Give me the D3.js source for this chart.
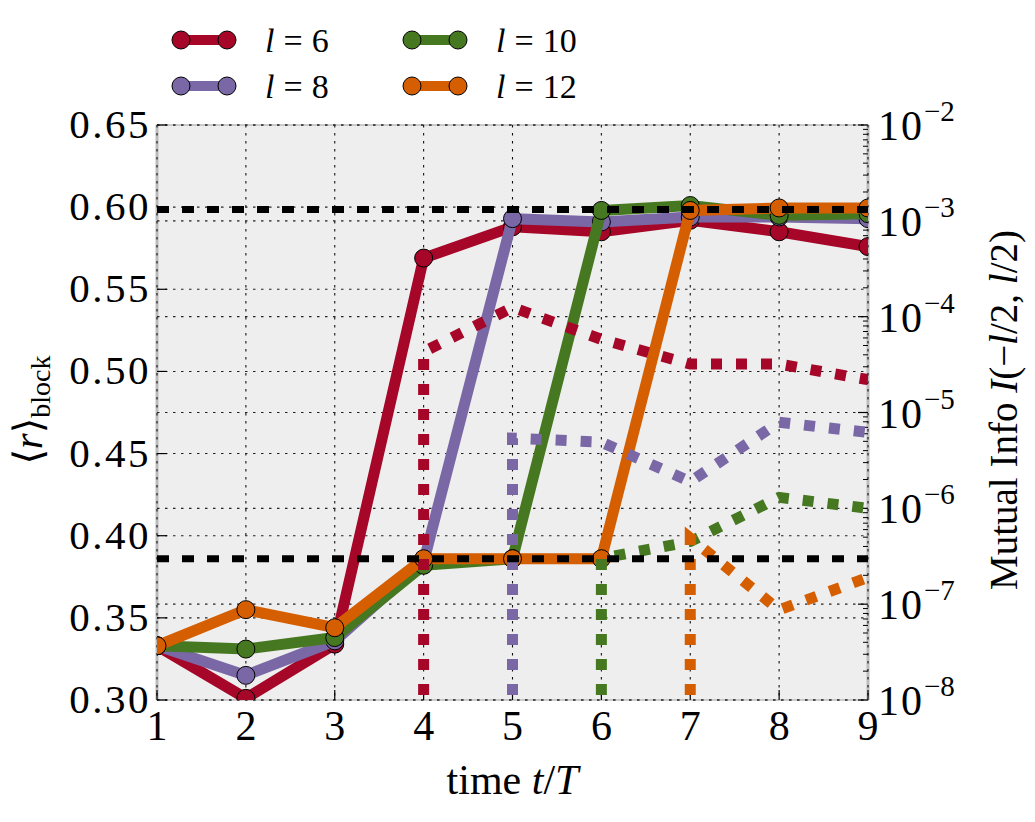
<!DOCTYPE html>
<html>
<head>
<meta charset="utf-8">
<script src="https://cdn.jsdelivr.net/npm/d3@7"></script>
<style>
  body { margin: 0; background: #fff; }
  text { font-family: "Liberation Serif", "DejaVu Serif", serif; fill: #000; }
</style>
</head>
<body>
<div id="chart"></div>
<script>
// time steps
const times = [1, 2, 3, 4, 5, 6, 7, 8, 9];

// <r>_block per block size l
const rL6 = [0.333, 0.301, 0.334, 0.569, 0.588, 0.585, 0.592, 0.585, 0.576];
const rL8 = [0.333, 0.315, 0.336, 0.384, 0.593, 0.591, 0.594, 0.594, 0.593];
const rL10 = [0.333, 0.331, 0.338, 0.382, 0.386, 0.598, 0.601, 0.595, 0.596];
const rL12 = [0.333, 0.355, 0.344, 0.386, 0.386, 0.386, 0.598, 0.5995, 0.5995];

// mutual information (0 = not yet nonzero, clipped on log axis)
const miL6 = [0, 0, 0, 4.3e-5, 1.25e-4, 5.8e-5, 3.2e-5, 3.2e-5, 2.2e-5];
const miL8 = [0, 0, 0, 0, 5.4e-6, 4.9e-6, 1.9e-6, 7.9e-6, 6.2e-6];
const miL10 = [0, 0, 0, 0, 0, 3.0e-7, 4.5e-7, 1.3e-6, 1.0e-6];
const miL12 = [0, 0, 0, 0, 0, 0, 4.9e-7, 8.7e-8, 1.9e-7];

// reference levels (Poisson and GUE)
const refLevels = [0.386, 0.5985];

const seriesNames = ["6", "8", "10", "12"];
const seriesColors = ["#a60628", "#7a68a6", "#467821", "#d55e00"];
const rSeries = [rL6, rL8, rL10, rL12];
const miSeries = [miL6, miL8, miL10, miL12];

const xTicks = [1, 2, 3, 4, 5, 6, 7, 8, 9];
const yTicks = [0.30, 0.35, 0.40, 0.45, 0.50, 0.55, 0.60, 0.65];
const logTicks = [-8, -7, -6, -5, -4, -3, -2];

const width = 1035, height = 822;
const margin = { left: 157, right: 167, top: 125, bottom: 122 };
const plotW = width - margin.left - margin.right;
const plotH = height - margin.top - margin.bottom;

let svg = d3.select("#chart")
  .append("svg")
  .attr("width", width)
  .attr("height", height);

let x = d3.scaleLinear().domain([1, 9]).range([0, plotW]);
let y = d3.scaleLinear().domain([0.30, 0.65]).range([plotH, 0]);
let yLog = d3.scaleLog().domain([1e-8, 1e-2]).range([plotH, 0]);

svg.append("defs").append("clipPath")
  .attr("id", "plot-clip")
  .append("rect")
  .attr("width", plotW)
  .attr("height", plotH);

let g = svg.append("g")
  .attr("transform", `translate(${margin.left},${margin.top})`);

// background
g.append("rect")
  .attr("width", plotW)
  .attr("height", plotH)
  .style("fill", "#eeeeee");

// spines
g.append("rect")
  .attr("width", plotW)
  .attr("height", plotH)
  .style("fill", "none")
  .style("stroke", "#bcbcbc")
  .style("stroke-width", 1.5);
[0, plotW].forEach(function (px) {
  g.append("line")
    .attr("x1", px).attr("x2", px)
    .attr("y1", 0).attr("y2", plotH)
    .style("stroke", "#bcbcbc")
    .style("stroke-width", 3);
});

// grid
let grid = g.append("g").attr("class", "grid");
grid.selectAll(".vgrid")
  .data(xTicks)
  .enter().append("line")
  .attr("x1", d => x(d)).attr("x2", d => x(d))
  .attr("y1", 0).attr("y2", plotH)
  .style("stroke", "#111")
  .style("stroke-width", 1.1)
  .style("stroke-dasharray", "2.5,5.5");
grid.selectAll(".hgrid")
  .data(yTicks)
  .enter().append("line")
  .attr("x1", 0).attr("x2", plotW)
  .attr("y1", d => y(d)).attr("y2", d => y(d))
  .style("stroke", "#222")
  .style("stroke-width", 1.1)
  .style("stroke-dasharray", "2.5,5.5");
grid.selectAll(".lgrid")
  .data(logTicks)
  .enter().append("line")
  .attr("x1", 0).attr("x2", plotW)
  .attr("y1", d => yLog(Math.pow(10, d))).attr("y2", d => yLog(Math.pow(10, d)))
  .style("stroke", "#222")
  .style("stroke-width", 1.1)
  .style("stroke-dasharray", "2.5,5.5");

// ticks (inward)
g.selectAll(".xtick")
  .data(xTicks)
  .enter().append("line")
  .attr("x1", d => x(d)).attr("x2", d => x(d))
  .attr("y1", plotH).attr("y2", plotH - 10)
  .style("stroke", "#000").style("stroke-width", 1.2);
g.selectAll(".ytick")
  .data(yTicks)
  .enter().append("line")
  .attr("x1", 0).attr("x2", 10)
  .attr("y1", d => y(d)).attr("y2", d => y(d))
  .style("stroke", "#000").style("stroke-width", 1.2);

let minorLog = [];
logTicks.slice(0, -1).forEach(function (e) {
  for (let m = 2; m <= 9; m++) minorLog.push(m * Math.pow(10, e));
});
g.selectAll(".lmajor")
  .data(logTicks)
  .enter().append("line")
  .attr("x1", plotW).attr("x2", plotW - 10)
  .attr("y1", d => yLog(Math.pow(10, d))).attr("y2", d => yLog(Math.pow(10, d)))
  .style("stroke", "#000").style("stroke-width", 1.2);
g.selectAll(".lminor")
  .data(minorLog)
  .enter().append("line")
  .attr("x1", plotW).attr("x2", plotW - 5)
  .attr("y1", d => yLog(d)).attr("y2", d => yLog(d))
  .style("stroke", "#000").style("stroke-width", 1);

// tick labels
g.selectAll(".xlabel")
  .data(xTicks)
  .enter().append("text")
  .attr("x", d => x(d))
  .attr("y", plotH + 40)
  .style("text-anchor", "middle")
  .style("font-size", "42px")
  .text(d => d);
g.selectAll(".ylabel")
  .data(yTicks)
  .enter().append("text")
  .attr("x", -6)
  .attr("y", d => y(d) + 13)
  .style("text-anchor", "end")
  .style("font-size", "41px")
  .style("letter-spacing", "2.5px")
  .text(d => d3.format(".2f")(d));
let logLabels = g.selectAll(".loglabel")
  .data(logTicks)
  .enter().append("text")
  .attr("x", plotW + 10)
  .attr("y", d => yLog(Math.pow(10, d)) + 15)
  .style("font-size", "42px");
logLabels.append("tspan").style("letter-spacing", "2px").text("10");
logLabels.append("tspan")
  .attr("dy", -19)
  .style("font-size", "29px")
  .text(d => "\u2212" + Math.abs(d));

// solid <r> lines
let line = d3.line()
  .x((d, i) => x(times[i]))
  .y(d => y(d));

let plot = g.append("g").attr("clip-path", "url(#plot-clip)");

rSeries.forEach(function (vals, k) {
  plot.append("path")
    .datum(vals)
    .attr("d", line)
    .style("fill", "none")
    .style("stroke", seriesColors[k])
    .style("stroke-width", 11)
    .style("stroke-linejoin", "miter");
  plot.selectAll(".m" + k)
    .data(vals)
    .enter().append("circle")
    .attr("cx", (d, i) => x(times[i]))
    .attr("cy", d => y(d))
    .attr("r", 9)
    .style("fill", seriesColors[k])
    .style("stroke", "#000")
    .style("stroke-width", 1);
});

// dotted mutual info lines (log axis, zeros clipped to the bottom)
let miLine = d3.line()
  .x(d => x(d.t))
  .y(d => d.v > 0 ? yLog(d.v) : plotH + 20);

miSeries.forEach(function (vals, k) {
  let pts = [];
  let first = vals.findIndex(v => v > 0);
  pts.push({ t: times[first], v: 0 });
  vals.forEach(function (v, i) {
    if (i >= first) pts.push({ t: times[i], v: v });
  });
  plot.append("path")
    .datum(pts)
    .attr("d", miLine)
    .style("fill", "none")
    .style("stroke", seriesColors[k])
    .style("stroke-width", 11)
    .style("stroke-dasharray", "11,14")
    .style("stroke-linejoin", "miter");
});

// reference dashed lines
plot.selectAll(".ref")
  .data(refLevels)
  .enter().append("line")
  .attr("x1", 0).attr("x2", plotW)
  .attr("y1", d => y(d)).attr("y2", d => y(d))
  .style("stroke", "#000")
  .style("stroke-width", 7)
  .style("stroke-dasharray", "12,13");

// axis titles
let xt = svg.append("text")
  .attr("x", margin.left + plotW / 2)
  .attr("y", 794)
  .style("text-anchor", "middle")
  .style("font-size", "42px");
xt.append("tspan").text("time ");
xt.append("tspan").style("font-style", "italic").text("t");
xt.append("tspan").text("/");
xt.append("tspan").style("font-style", "italic").text("T");

let yt = svg.append("text")
  .attr("transform", "translate(42,410) rotate(-90)")
  .style("text-anchor", "middle")
  .style("font-size", "40px");
yt.append("tspan").text("\u27e8");
yt.append("tspan").style("font-style", "italic").text("r");
yt.append("tspan").text("\u27e9");
yt.append("tspan").attr("dy", 8).style("font-size", "28px").text("block");

let rt = svg.append("text")
  .attr("transform", "translate(1017,410) rotate(-90)")
  .style("text-anchor", "middle")
  .style("font-size", "39px");
rt.append("tspan").text("Mutual Info ");
rt.append("tspan").style("font-style", "italic").text("I");
rt.append("tspan").text("(\u2212");
rt.append("tspan").style("font-style", "italic").text("l");
rt.append("tspan").text("/2, ");
rt.append("tspan").style("font-style", "italic").text("l");
rt.append("tspan").text("/2)");

// legend
let legend = svg.append("g").attr("class", "legend");
seriesNames.forEach(function (name, k) {
  let col = Math.floor(k / 2), row = k % 2;
  let lg = legend.append("g")
    .attr("transform", `translate(${181 + col * 231},${40 + row * 46})`);
  lg.append("line")
    .attr("x1", 0).attr("x2", 46)
    .style("stroke", seriesColors[k])
    .style("stroke-width", 10);
  lg.selectAll("circle")
    .data([0, 46])
    .enter().append("circle")
    .attr("cx", d => d)
    .attr("r", 9)
    .style("fill", seriesColors[k])
    .style("stroke", "#000")
    .style("stroke-width", 1);
  let t = lg.append("text")
    .attr("x", 84)
    .attr("y", 12)
    .style("font-size", "34px");
  t.append("tspan").style("font-style", "italic").text("l");
  t.append("tspan").attr("dx", 9).text("=");
  t.append("tspan").attr("dx", 9).text(name);
});
</script>
</body>
</html>
